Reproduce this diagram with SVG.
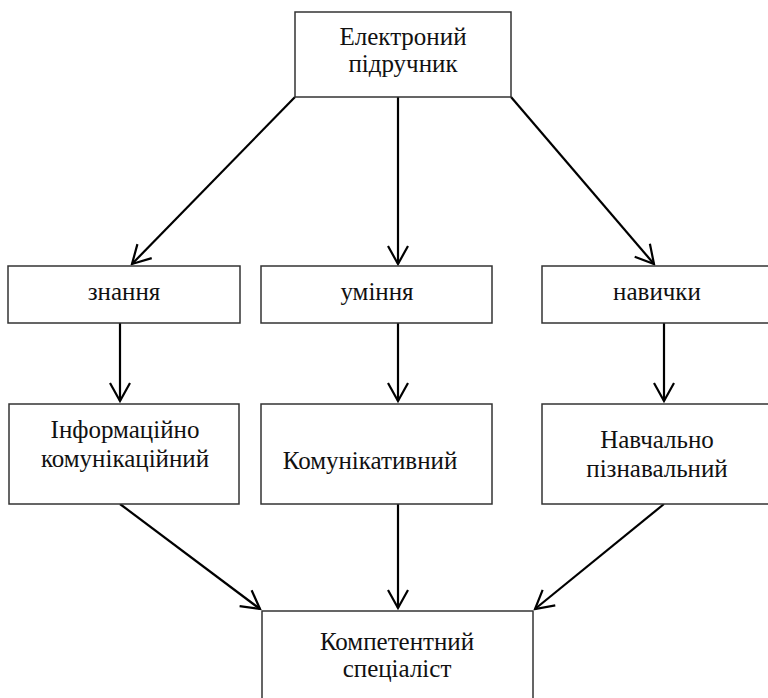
<svg xmlns="http://www.w3.org/2000/svg" width="768" height="698" viewBox="0 0 768 698">
<defs>
<style>
.box{fill:#fff;stroke:#333;stroke-width:1.5}
.t{font-family:"Liberation Serif","Times New Roman",serif;font-size:25px;fill:#111;text-anchor:middle}
.c{stroke:#000;stroke-width:2.2;fill:none;marker-end:url(#a)}
</style>
<marker id="a" markerUnits="userSpaceOnUse" viewBox="-20 -12 22 24" refX="0" refY="0" markerWidth="22" markerHeight="24" orient="auto">
<path d="M-18,-10 L0,0 L-18,10" fill="none" stroke="#000" stroke-width="2.2"/>
</marker>
</defs>
<rect width="768" height="698" fill="#fff"/>
<g id="connectors">
<line class="c" x1="295" y1="97" x2="132" y2="264"/>
<line class="c" x1="398" y1="97" x2="398" y2="264"/>
<line class="c" x1="511" y1="97" x2="654" y2="264"/>
<line class="c" x1="120" y1="323" x2="120" y2="401"/>
<line class="c" x1="398" y1="323" x2="398" y2="401"/>
<line class="c" x1="664" y1="323" x2="664" y2="401"/>
<line class="c" x1="120" y1="504" x2="260" y2="609"/>
<line class="c" x1="398" y1="504" x2="398" y2="608"/>
<line class="c" x1="664" y1="504" x2="535" y2="609"/>
</g>
<g id="n-top">
<rect class="box" x="295" y="12" width="216" height="85"/>
<text class="t" x="403" y="45">Електроний</text>
<text class="t" x="403" y="72">підручник</text>
</g>
<g id="n-znannia">
<rect class="box" x="8" y="266" width="232" height="57"/>
<text class="t" x="124" y="300">знання</text>
</g>
<g id="n-uminnia">
<rect class="box" x="261" y="266" width="231" height="57"/>
<text class="t" x="377" y="300">уміння</text>
</g>
<g id="n-navychky">
<rect class="box" x="542" y="266" width="232" height="57"/>
<text class="t" x="657" y="300">навички</text>
</g>
<g id="n-info">
<rect class="box" x="9" y="404" width="230" height="100"/>
<text class="t" x="125" y="438">Інформаційно</text>
<text class="t" x="125" y="467">комунікаційний</text>
</g>
<g id="n-komun">
<rect class="box" x="261" y="404" width="231" height="100"/>
<text class="t" x="370" y="469">Комунікативний</text>
</g>
<g id="n-navch">
<rect class="box" x="542" y="404" width="232" height="100"/>
<text class="t" x="657" y="448">Навчально</text>
<text class="t" x="657" y="477">пізнавальний</text>
</g>
<g id="n-komp">
<rect class="box" x="262" y="611" width="271" height="100"/>
<text class="t" x="397" y="650">Компетентний</text>
<text class="t" x="397" y="677">спеціаліст</text>
</g>
</svg>
